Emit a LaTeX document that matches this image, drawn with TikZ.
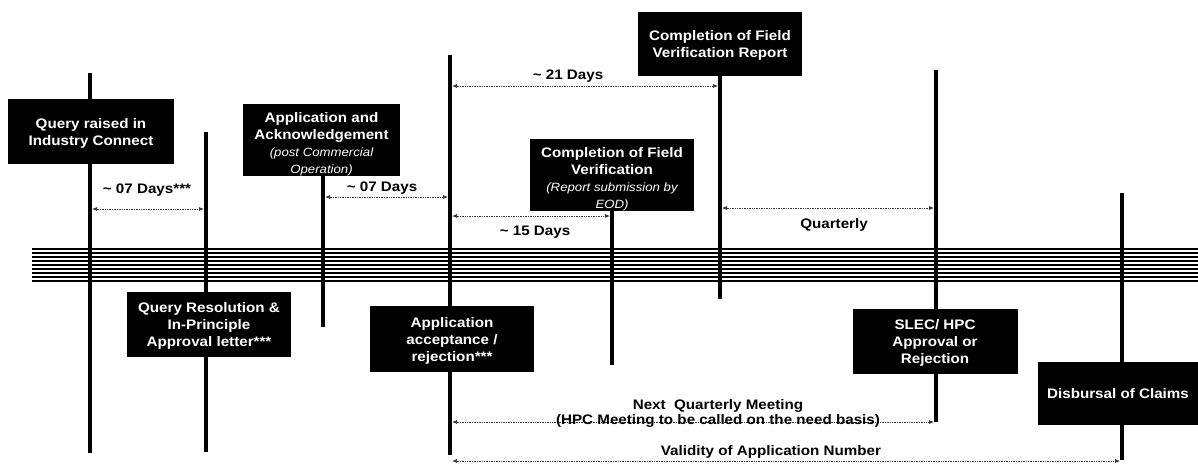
\documentclass[tikz,border=0pt]{standalone}
\usepackage{fontspec}
\setmainfont{Liberation Sans}[FakeStretch=1.1]
\usetikzlibrary{arrows.meta}

\newcommand{\subnote}[1]{{\mdseries\itshape\fontsize{12}{17}\selectfont #1}}

\begin{document}
\begin{tikzpicture}[x=1pt, y=-1pt,
    event/.style={fill=black, text=white, font=\bfseries\fontsize{13.8}{17}\selectfont,
        align=center, inner sep=0pt, text depth=0pt, minimum width=164pt, minimum height=65pt},
    stem/.style={line width=3.6pt},
    band/.style={line width=2pt},
    span/.style={densely dotted, line width=0.7pt, gray!40!black,
        {Latex[length=5pt,width=4pt]}-{Latex[length=5pt,width=4pt]},
        shorten <=2pt, shorten >=2pt},
    gap/.style={font=\bfseries\fontsize{13.8}{15}\selectfont, align=center, inner sep=0pt}]
    \useasboundingbox (0,0) rectangle (1198,464);

    % Stem ends
    \coordinate (qr) at (90,73);     \coordinate (qrEnd) at (90,453);
    \coordinate (ip) at (206,132);   \coordinate (ipEnd) at (206,452);
    \coordinate (ak) at (323,110);   \coordinate (akEnd) at (323,327);
    \coordinate (acc) at (450,55);   \coordinate (accEnd) at (450,455);
    \coordinate (fv) at (612,180);   \coordinate (fvEnd) at (612,365);
    \coordinate (fr) at (720,40);    \coordinate (frEnd) at (720,299);
    \coordinate (sl) at (936,70);    \coordinate (slEnd) at (936,422);
    \coordinate (db) at (1122,193);  \coordinate (dbEnd) at (1122,460);

    % Time band
    \foreach \y in {249,253,...,281}
        \draw[band] (32,\y) -- (1198,\y);

    % Stems
    \draw[stem] (qr) -- (qrEnd);
    \draw[stem] (ip) -- (ipEnd);
    \draw[stem] (ak) -- (akEnd);
    \draw[stem] (acc) -- (accEnd);
    \draw[stem] (fv) -- (fvEnd);
    \draw[stem] (fr) -- (frEnd);
    \draw[stem] (sl) -- (slEnd);
    \draw[stem] (db) -- (dbEnd);

    % Events
    \node[event, minimum width=166pt] (raiseBox) at (91,131.5) {Query raised in\\Industry Connect};
    \node[event] (resolveBox) at (209,324.5) {Query Resolution \&\\In-Principle\\Approval letter***};
    \node[event, minimum width=157pt, minimum height=72pt] (applyBox) at (321.5,140)
        {\rule{0pt}{15pt}Application and\\Acknowledgement\\\subnote{(post Commercial}\\\subnote{Operation)}};
    \node[event, minimum height=66pt] (acceptBox) at (452,339) {Application\\acceptance /\\rejection***};
    \node[event, minimum height=72pt] (fieldBox) at (612,175)
        {\rule{0pt}{15pt}Completion of Field\\Verification\\\subnote{(Report submission by}\\\subnote{EOD)}};
    \node[event, minimum height=64pt] (reportBox) at (720,44) {Completion of Field\\Verification Report};
    \node[event, minimum width=165pt] (slecBox) at (935,341.5) {SLEC/ HPC\\Approval or\\Rejection};
    \node[event, minimum width=160pt, minimum height=63pt] (claimBox) at (1118,393.5) {Disbursal of Claims};

    % Durations
    \draw[span] (qr |- 0,209) -- (ip |- 0,209);
    \node[gap] (firstWeek) at (147,190) {\textasciitilde{} 07 Days***};
    \draw[span] (ak |- 0,197) -- (acc |- 0,197);
    \node[gap] (secondWeek) at (382,188) {\textasciitilde{} 07 Days};
    \draw[span] (acc |- 0,86) -- (fr |- 0,86);
    \node[gap] (reportDays) at (568,76) {\textasciitilde{} 21 Days};
    \draw[span] (acc |- 0,216) -- (fv |- 0,216);
    \node[gap] (fieldDays) at (535,232) {\textasciitilde{} 15 Days};
    \draw[span] (fr |- 0,208) -- (sl |- 0,208);
    \node[gap] (quarter) at (834,225) {Quarterly};
    \draw[span] (acc |- 0,422) -- (sl |- 0,422);
    \node[gap] (meeting) at (718,413) {Next\ \ Quarterly Meeting\\(HPC Meeting to be called on the need basis)};
    \draw[span] (acc |- 0,461) -- (db |- 0,461);
    \node[gap] (validity) at (771,452) {Validity of Application Number};
\end{tikzpicture}
\end{document}
